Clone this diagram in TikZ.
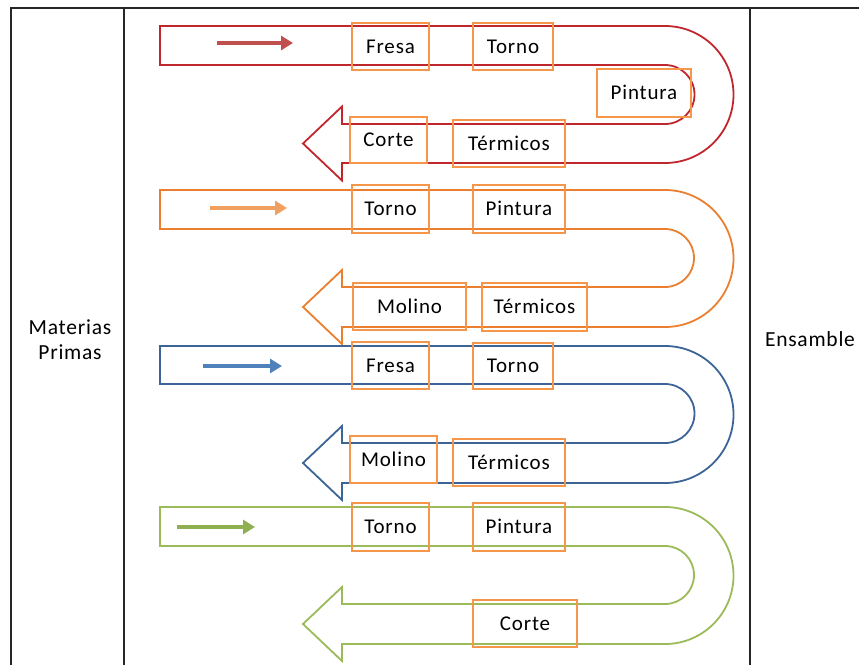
\documentclass[tikz,border=0pt]{standalone}
\usepackage{fontspec}
\setmainfont{Carlito}
\usetikzlibrary{arrows.meta}
\definecolor{cRed}{HTML}{C0272D}
\definecolor{cRedA}{HTML}{C0504D}
\definecolor{cOrg}{HTML}{EB7F2F}
\definecolor{cOrgA}{HTML}{F0A060}
\definecolor{cBlu}{HTML}{3C6496}
\definecolor{cBluA}{HTML}{4F81BD}
\definecolor{cGrn}{HTML}{9BBB59}
\definecolor{cGrnA}{HTML}{8FB050}
\definecolor{cBox}{HTML}{F5964A}
\tikzset{
  uline/.style={line width=1.8pt, line join=miter},
  frame/.style={line width=2.4pt, black!85},
  sbox/.style={draw=cBox, line width=1.8pt, inner sep=0pt, font=\fontsize{21}{25}\selectfont\addfontfeatures{LetterSpace=4}, text height=1.45em, text depth=0.1em},
  flowarrow/.style={line width=4pt, -{Triangle[length=12pt,width=14pt]}},
  lbl/.style={font=\fontsize{21.5}{25}\selectfont\addfontfeatures{LetterSpace=3.5}, align=center}
}
\newcommand\UTurn[5]{%
  \draw[#1, uline] (160,#2) -- (665,#2)
    arc[start angle=-90,end angle=90,radius={(#5-#2)/2}]
    -- (342,#5) -- (342,{(#4+#5)/2+37}) -- (303,{(#4+#5)/2}) -- (342,{(#4+#5)/2-37})
    -- (342,#4) -- (665,#4)
    arc[start angle=90,end angle=-90,radius={(#4-#3)/2}]
    -- (160,#3) -- cycle;}
\begin{document}
\begin{tikzpicture}[x=1pt,y=-1pt]
\useasboundingbox (0,0) rectangle (859,664);
% frame
\draw[frame] (11,666) -- (11,8) -- (861,8);
\draw[frame] (124,8) -- (124,666);
\draw[frame] (750,8) -- (750,666);
\node[lbl] (mp) at (70,340) {Materias\\Primas};
\node[lbl] (ens) at (810,339) {Ensamble};
% U-turn arrows
\UTurn{cRed}{26}{65}{124}{163}
\UTurn{cOrg}{190}{229}{287}{327}
\UTurn{cBlu}{346}{384}{443}{483}
\UTurn{cGrn}{507}{546}{604}{644}
% small flow arrows
\coordinate (ra1) at (217,43); \coordinate (ra2) at (293,43);
\coordinate (oa1) at (210,208); \coordinate (oa2) at (287,208);
\coordinate (ba1) at (203,366); \coordinate (ba2) at (282,366);
\coordinate (ga1) at (177,527); \coordinate (ga2) at (255,527);
\draw[flowarrow, cRedA] (ra1) -- (ra2);
\draw[flowarrow, cOrgA] (oa1) -- (oa2);
\draw[flowarrow, cBluA] (ba1) -- (ba2);
\draw[flowarrow, cGrnA] (ga1) -- (ga2);
% red row
\node[sbox, minimum width=77pt, minimum height=47pt] (r1) at (390.5,46.5) {Fresa};
\node[sbox, minimum width=80pt, minimum height=47pt] (r2) at (513,46.5) {Torno};
\node[sbox, minimum width=94pt, minimum height=48pt] (r3) at (644,93) {Pintura};
\node[sbox, minimum width=77pt, minimum height=46pt] (r4) at (388.5,140) {Corte};
\node[sbox, minimum width=112pt, minimum height=47pt] (r5) at (509,143.5) {Térmicos};
% orange row
\node[sbox, minimum width=77pt, minimum height=48pt] (o1) at (390.5,209) {Torno};
\node[sbox, minimum width=92pt, minimum height=48pt] (o2) at (519,209) {Pintura};
\node[sbox, minimum width=113pt, minimum height=47pt] (o3) at (409.5,306.5) {Molino};
\node[sbox, minimum width=105pt, minimum height=48pt] (o4) at (534.5,307) {Térmicos};
% blue row
\node[sbox, minimum width=77pt, minimum height=47pt] (b1) at (390.5,365.5) {Fresa};
\node[sbox, minimum width=80pt, minimum height=46pt] (b2) at (513,366) {Torno};
\node[sbox, minimum width=87pt, minimum height=47pt] (b3) at (393.5,459.5) {Molino};
\node[sbox, minimum width=112pt, minimum height=47pt] (b4) at (509,462.5) {Térmicos};
% green row
\node[sbox, minimum width=77pt, minimum height=48pt] (g1) at (390.5,527) {Torno};
\node[sbox, minimum width=92pt, minimum height=48pt] (g2) at (519,527) {Pintura};
\node[sbox, minimum width=104pt, minimum height=47pt] (g3) at (525,623.5) {Corte};
\end{tikzpicture}
\end{document}
